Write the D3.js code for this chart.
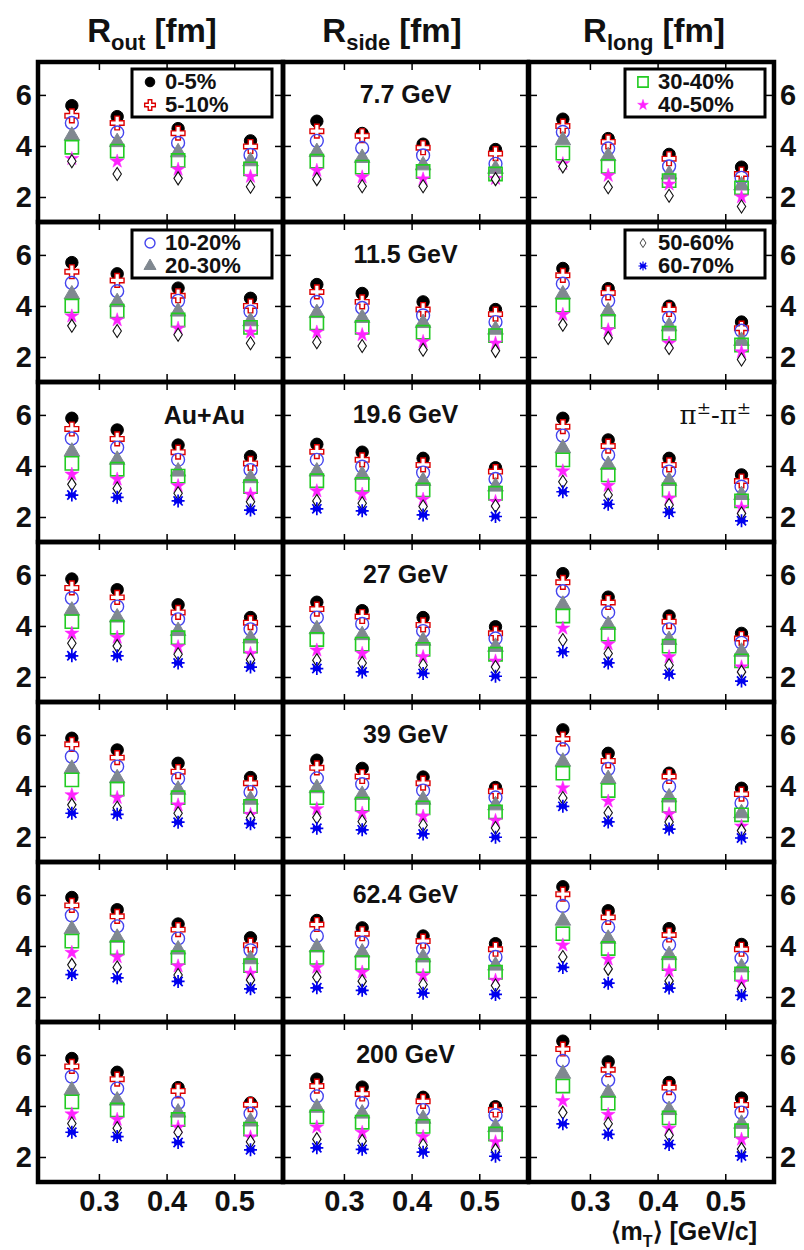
<!DOCTYPE html>
<html>
<head>
<meta charset="utf-8">
<script src="https://cdn.jsdelivr.net/npm/d3@7"></script>
<style>
  body { margin: 0; background: #fff; }
  text { font-family: "Liberation Sans", Arial, sans-serif; font-weight: bold; fill: #111; }
</style>
</head>
<body>
<svg id="chart" width="804" height="1250"></svg>
<script>
// mean transverse mass bins [GeV/c]
var mT = [0.26, 0.327, 0.417, 0.524];
var centralities = ["0-5%", "5-10%", "10-20%", "20-30%", "30-40%", "40-50%", "50-60%", "60-70%"];
var energies = ["7.7 GeV", "11.5 GeV", "19.6 GeV", "27 GeV", "39 GeV", "62.4 GeV", "200 GeV"];
var xTicks = [0.3, 0.4, 0.5];
var yTicks = [2, 4, 6];

// radii [fm], per energy -> per centrality -> 4 mT points (null = not measured)
var rOut = [
  [[5.58,5.15,4.68,4.2],[5.18,4.9,4.5,3.98],[4.9,4.53,4.12,3.65],[4.4,4.15,3.75,3.4],[3.95,3.8,3.43,3.1],[3.5,3.4,3.08,2.8],[3.4,2.9,2.73,2.4],null],
  [[5.7,5.26,4.7,4.3],[5.34,5.0,4.4,4.0],[4.9,4.58,4.2,3.78],[4.45,4.15,3.78,3.4],[4.0,3.8,3.45,3.16],[3.6,3.45,3.12,2.97],[3.22,3.02,2.87,2.54],null],
  [[5.87,5.41,4.82,4.37],[5.45,5.06,4.54,4.1],[5.08,4.72,4.24,3.84],[4.56,4.24,3.78,3.52],[4.1,3.87,3.6,3.19],[3.67,3.48,3.22,2.89],[3.28,3.12,2.93,2.6],[2.86,2.77,2.63,2.27]],
  [[5.84,5.42,4.83,4.33],[5.49,5.12,4.53,4.13],[5.09,4.76,4.26,3.87],[4.6,4.33,3.8,3.51],[4.17,3.95,3.54,3.21],[3.71,3.55,3.18,2.92],[3.32,3.21,2.89,2.68],[2.83,2.83,2.55,2.39]],
  [[5.87,5.41,4.89,4.33],[5.63,5.11,4.56,4.11],[5.15,4.76,4.28,3.76],[4.67,4.3,3.85,3.46],[4.24,3.88,3.54,3.2],[3.65,3.54,3.25,2.88],[3.26,3.15,2.93,2.75],[2.93,2.89,2.58,2.52]],
  [[5.9,5.42,4.86,4.32],[5.59,5.16,4.64,4.03],[5.2,4.77,4.29,3.83],[4.65,4.32,3.86,3.48],[4.19,3.93,3.54,3.23],[3.74,3.57,3.21,2.93],[3.26,3.16,2.86,2.67],[2.88,2.75,2.61,2.32]],
  [[5.86,5.32,4.72,4.12],[5.55,5.05,4.59,4.05],[5.15,4.68,4.12,3.7],[4.61,4.21,3.74,3.39],[4.16,3.84,3.47,3.09],[3.68,3.47,3.17,2.78],[3.31,3.13,2.97,2.6],[2.97,2.8,2.57,2.28]]
];
var rSide = [
  [[4.97,4.49,4.07,3.86],[4.58,4.4,3.93,3.7],[4.2,3.92,3.63,3.3],[3.76,3.53,3.24,3.1],[3.4,3.17,3.0,2.9],[3.04,2.78,2.7,2.72],[2.7,2.42,2.42,2.7],null],
  [[4.84,4.49,4.16,3.86],[4.55,4.16,3.86,3.68],[4.16,3.92,3.63,3.37],[3.72,3.53,3.33,3.07],[3.33,3.16,2.97,2.84],[2.97,2.87,2.6,2.54],[2.58,2.43,2.28,2.24],null],
  [[4.85,4.54,4.3,3.93],[4.56,4.24,4.04,3.78],[4.24,3.97,3.74,3.49],[3.78,3.65,3.41,3.19],[3.42,3.28,3.06,2.93],[3.02,2.89,2.69,2.6],[2.63,2.54,2.41,2.43],[2.32,2.24,2.08,2.02]],
  [[4.93,4.6,4.33,3.97],[4.66,4.37,4.04,3.71],[4.33,4.08,3.8,3.51],[3.87,3.64,3.42,3.18],[3.47,3.29,3.08,2.89],[3.05,2.92,2.79,2.62],[2.66,2.55,2.46,2.39],[2.33,2.2,2.14,2.03]],
  [[5.01,4.69,4.35,3.94],[4.71,4.37,4.11,3.79],[4.3,4.07,3.82,3.55],[3.91,3.65,3.46,3.24],[3.54,3.29,3.14,2.98],[3.1,2.93,2.81,2.64],[2.76,2.61,2.46,2.35],[2.34,2.28,2.12,1.99]],
  [[5.0,4.71,4.39,4.09],[4.84,4.48,4.19,3.87],[4.39,4.13,3.87,3.57],[3.94,3.74,3.55,3.23],[3.55,3.35,3.23,2.97],[3.16,2.97,2.84,2.65],[2.77,2.62,2.49,2.45],[2.36,2.26,2.15,2.1]],
  [[5.05,4.74,4.34,3.97],[4.78,4.47,4.18,3.84],[4.38,4.11,3.84,3.64],[3.93,3.7,3.5,3.17],[3.57,3.36,3.2,2.9],[3.17,2.96,2.79,2.59],[2.7,2.63,2.46,2.27],[2.36,2.3,2.19,2.03]]
];
var rLong = [
  [[5.05,4.29,3.67,3.17],[4.78,4.16,3.5,2.9],[4.55,3.9,3.2,2.75],[4.22,3.6,2.88,2.45],[3.72,3.2,2.64,2.36],[3.3,2.84,2.5,2.0],[3.2,2.38,2.05,1.63],null],
  [[5.47,4.68,3.99,3.37],[5.2,4.51,3.86,3.13],[4.87,4.2,3.53,3.03],[4.45,3.78,3.2,2.63],[4.03,3.39,2.93,2.47],[3.66,3.06,2.54,2.2],[3.26,2.74,2.35,1.9],null],
  [[5.87,5.02,4.3,3.65],[5.54,4.78,4.04,3.41],[5.19,4.43,3.78,3.19],[4.69,4.04,3.41,2.86],[4.24,3.65,3.06,2.63],[3.8,3.23,2.73,2.37],[3.38,2.86,2.47,2.14],[2.99,2.5,2.18,1.85]],
  [[6.05,5.13,4.39,3.71],[5.71,4.92,4.17,3.51],[5.36,4.53,3.87,3.34],[4.83,4.04,3.45,2.99],[4.39,3.68,3.21,2.63],[3.91,3.29,2.79,2.39],[3.45,2.92,2.46,2.2],[2.99,2.55,2.11,1.84]],
  [[6.2,5.28,4.5,3.91],[5.84,4.98,4.37,3.68],[5.44,4.67,3.98,3.33],[4.95,4.27,3.55,2.93],[4.5,3.82,3.24,2.87],[3.92,3.4,2.9,2.42],[3.53,2.95,2.59,2.25],[3.2,2.59,2.31,1.96]],
  [[6.32,5.38,4.68,4.06],[6.03,5.12,4.43,3.87],[5.57,4.74,4.05,3.52],[4.99,4.28,3.64,3.16],[4.48,3.9,3.31,2.9],[4.03,3.48,3.02,2.58],[3.57,3.1,2.63,2.32],[3.16,2.54,2.35,2.06]],
  [[6.54,5.73,4.92,4.31],[6.23,5.42,4.72,4.04],[5.77,5.01,4.34,3.74],[5.26,4.51,3.84,3.3],[4.78,4.11,3.53,3.03],[4.2,3.66,3.12,2.69],[3.74,3.3,2.85,2.31],[3.3,2.89,2.49,2.04]]
];
var radii = [rOut, rSide, rLong];
var titles = ["out", "side", "long"];

// layout
var svg = d3.select('#chart');
var colX = [38, 283, 529];
var panelW = 245, rowTop = 62, rowH = 160;
var x = d3.scaleLinear().domain([0.21, 0.572]).range([0, panelW]);
var y = d3.scaleLinear().domain([1.02, 7.29]).range([rowH, 0]);

// marker styles, one per centrality
var markers = [
  {type: d3.symbolCircle, size: 120, fill: '#000', stroke: '#000', sw: 1},
  {type: d3.symbolCross, size: 105, fill: '#fff', stroke: '#dd0000', sw: 1.4},
  {type: d3.symbolCircle, size: 130, fill: 'none', stroke: '#4444ee', sw: 1.4},
  {type: d3.symbolTriangle, size: 105, fill: '#808890', stroke: '#808890', sw: 1},
  {type: d3.symbolSquare, size: 175, fill: 'none', stroke: '#22cc22', sw: 1.6},
  {type: d3.symbolStar, size: 60, fill: '#ff22ff', stroke: '#ff22ff', sw: 0.5},
  {path: 'M0,-6.5L4.2,0L0,6.5L-4.2,0Z', fill: '#fff', stroke: '#111', sw: 1.1},
  {path: 'M-6.5,0H6.5M0,-6.5V6.5M-4.6,-4.6L4.6,4.6M-4.6,4.6L4.6,-4.6M-4,-1.5H4M-4,1.5H4', fill: 'none', stroke: '#0000ee', sw: 1.7}
];

function markerPath(m, scale) {
  if (m.path) return m.path;
  return d3.symbol().type(m.type).size(m.size * (scale || 1))();
}

function drawMarkers(g, series) {
  series.forEach(function(vals, ci) {
    if (!vals) return;
    var m = markers[ci];
    g.selectAll('.m' + ci)
      .data(vals)
      .enter()
      .append('path')
        .attr('class', 'm' + ci)
        .attr('d', markerPath(m))
        .attr('transform', function(d, i) { return 'translate(' + x(mT[i]) + ',' + y(d) + ')'; })
        .attr('fill', m.fill)
        .attr('stroke', m.stroke)
        .attr('stroke-width', m.sw);
  });
}

function drawLegend(g, bx, by, items) {
  var lg = g.append('g').attr('transform', 'translate(' + bx + ',' + by + ')');
  lg.append('rect')
    .attr('width', 140).attr('height', 48)
    .attr('fill', '#fff').attr('stroke', '#000').attr('stroke-width', 3);
  items.forEach(function(ci, k) {
    var m = markers[ci];
    lg.append('path')
      .attr('d', markerPath(m, 0.6))
      .attr('transform', 'translate(18,' + (13 + k * 23) + ')' + (m.path ? ' scale(0.7)' : ''))
      .attr('fill', m.fill).attr('stroke', m.stroke).attr('stroke-width', m.sw);
    lg.append('text')
      .attr('x', 33).attr('y', 20 + k * 23)
      .style('font-size', '22px')
      .text(centralities[ci]);
  });
}

// column titles
var titleX = [152, 392, 654];
titles.forEach(function(t, c) {
  var tx = svg.append('text')
    .attr('x', titleX[c]).attr('y', 42)
    .attr('text-anchor', 'middle')
    .style('font-size', '33px');
  tx.append('tspan').text('R');
  tx.append('tspan').attr('dy', 8).style('font-size', '22px').text(t);
  tx.append('tspan').attr('dy', -8).text(' [fm]');
});

energies.forEach(function(energy, r) {
  radii.forEach(function(rad, c) {
    var g = svg.append('g')
      .attr('transform', 'translate(' + colX[c] + ',' + (rowTop + r * rowH) + ')');

    // inward ticks on all four sides
    var left = d3.axisLeft(y).tickValues(yTicks).tickSizeInner(-8).tickSizeOuter(0).tickPadding(6).tickFormat(d3.format('d'));
    if (c !== 0) left.tickFormat('');
    var right = d3.axisRight(y).tickValues(yTicks).tickSizeInner(-8).tickSizeOuter(0).tickPadding(6).tickFormat(d3.format('d'));
    if (c !== 2) right.tickFormat('');
    var top = d3.axisTop(x).tickValues(xTicks).tickSizeInner(-8).tickSizeOuter(0).tickFormat('');
    var bottom = d3.axisBottom(x).tickValues(xTicks).tickSizeInner(-8).tickSizeOuter(0).tickPadding(8).tickFormat(d3.format('.1f'));
    if (r !== energies.length - 1) bottom.tickFormat('');

    [[left, 'translate(0,0)'], [right, 'translate(' + panelW + ',0)'],
     [top, 'translate(0,0)'], [bottom, 'translate(0,' + rowH + ')']].forEach(function(a) {
      var ax = g.append('g').attr('transform', a[1]).call(a[0]);
      ax.select('.domain').remove();
      ax.selectAll('line').attr('stroke', '#000').attr('stroke-width', 1.5);
      ax.selectAll('text')
        .attr('fill', '#111')
        .style('font-family', '"Liberation Sans", Arial, sans-serif')
        .style('font-weight', 'bold')
        .style('font-size', '29px');
    });

    drawMarkers(g, rad[r]);

    // panel frame
    g.append('rect')
      .attr('width', panelW).attr('height', rowH)
      .attr('fill', 'none').attr('stroke', '#000').attr('stroke-width', 4.5);
  });

  var mid = svg.append('g').attr('transform', 'translate(' + colX[1] + ',' + (rowTop + r * rowH) + ')');
  mid.append('text')
    .attr('x', panelW / 2).attr('y', 41)
    .attr('text-anchor', 'middle')
    .style('font-size', '25px')
    .text(energy);
});

// legends
var gL1 = svg.append('g').attr('transform', 'translate(' + colX[0] + ',' + rowTop + ')');
drawLegend(gL1, 94, 7, [0, 1]);
var gR1 = svg.append('g').attr('transform', 'translate(' + colX[2] + ',' + rowTop + ')');
drawLegend(gR1, 96, 7, [4, 5]);
var gL2 = svg.append('g').attr('transform', 'translate(' + colX[0] + ',' + (rowTop + rowH) + ')');
drawLegend(gL2, 94, 8, [2, 3]);
var gR2 = svg.append('g').attr('transform', 'translate(' + colX[2] + ',' + (rowTop + rowH) + ')');
drawLegend(gR2, 96, 8, [6, 7]);

// system and pair labels
svg.append('text')
  .attr('x', colX[0] + 207).attr('y', rowTop + 2 * rowH + 42)
  .attr('text-anchor', 'end')
  .style('font-size', '25px')
  .text('Au+Au');
var pp = svg.append('text')
  .attr('x', colX[2] + 222).attr('y', rowTop + 2 * rowH + 42)
  .attr('text-anchor', 'end')
  .style('font-family', '"DejaVu Serif", "Liberation Serif", serif')
  .style('font-weight', 'normal')
  .style('font-size', '26px');
pp.append('tspan').text('π');
pp.append('tspan').attr('dy', -10).style('font-size', '17px').text('±');
pp.append('tspan').attr('dy', 10).text('-π');
pp.append('tspan').attr('dy', -10).style('font-size', '17px').text('±');

// x-axis title
var xt = svg.append('text')
  .attr('x', 757).attr('y', 1240)
  .attr('text-anchor', 'end')
  .style('font-size', '25px');
xt.append('tspan').text('\u27E8m');
xt.append('tspan').attr('dy', 7).style('font-size', '16px').text('T');
xt.append('tspan').attr('dy', -7).text('\u27E9 [GeV/c]');
</script>
</body>
</html>
